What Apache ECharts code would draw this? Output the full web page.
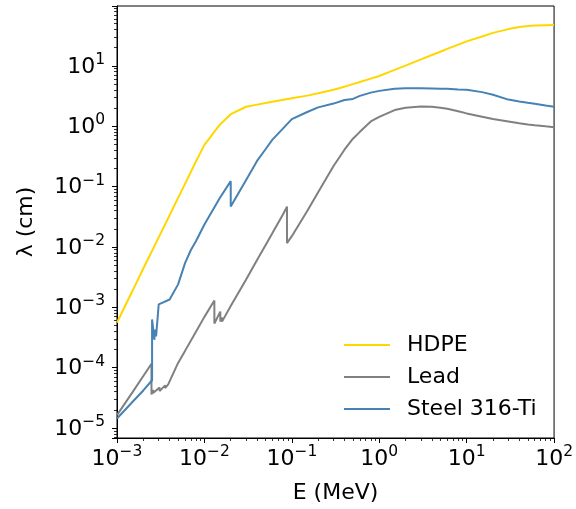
<!DOCTYPE html>
<html>
<head>
<meta charset="utf-8">
<script src="https://cdn.jsdelivr.net/npm/echarts@6/dist/echarts.min.js"></script>
<style>
html,body{margin:0;padding:0;background:#fff;}
#chart{width:576px;height:509px;}
</style>
</head>
<body>
<div id="chart"></div>
<script>
// ---- data ----
const seriesNames = ['HDPE', 'Lead', 'Steel 316-Ti'];
const seriesColors = ['#FFD700', '#808080', '#4682B4'];

const E_hdpe = [0.001, 0.0015, 0.002, 0.003, 0.004, 0.005, 0.006, 0.008, 0.01, 0.015, 0.02, 0.03, 0.04, 0.05, 0.06, 0.08, 0.1, 0.15, 0.2, 0.3, 0.4, 0.5, 0.6, 0.8, 1, 1.5, 2, 3, 4, 5, 6, 8, 10, 15, 20, 30, 40, 50, 60, 80, 100];
const lam_hdpe = [5.6e-4, 1.86e-3, 4.4e-3, 0.0144, 0.0336, 0.065, 0.111, 0.26, 0.49, 1.06, 1.58, 2.1, 2.28, 2.43, 2.55, 2.75, 2.91, 3.21, 3.51, 4.02, 4.52, 4.98, 5.4, 6.14, 6.8, 8.57, 10.1, 12.8, 15.1, 17.1, 19.1, 22.5, 25.4, 30.7, 35.2, 40.6, 44.1, 45.5, 46.7, 47.2, 47.5];

const E_lead = [0.001, 0.0015, 0.002, 0.00248, 0.00248, 0.00259, 0.00259, 0.00307, 0.00307, 0.00355, 0.00355, 0.00385, 0.00385, 0.005, 0.006, 0.008, 0.01, 0.013, 0.013, 0.0152, 0.0152, 0.0159, 0.0159, 0.02, 0.03, 0.04, 0.05, 0.06, 0.08, 0.088, 0.088, 0.1, 0.15, 0.2, 0.3, 0.4, 0.5, 0.6, 0.8, 1, 1.5, 2, 3, 4, 5, 6, 8, 10, 15, 20, 30, 40, 50, 60, 80, 100];
const lam_lead = [1.64e-5, 3.9e-5, 7.3e-5, 1.16e-4, 3.6e-5, 4.3e-5, 3.8e-5, 4.7e-5, 4.1e-5, 5.1e-5, 4.6e-5, 5.3e-5, 5.0e-5, 1.2e-4, 1.9e-4, 3.95e-4, 6.95e-4, 1.30e-3, 5.4e-4, 8.5e-4, 5.8e-4, 6.8e-4, 5.8e-4, 1.05e-3, 2.9e-3, 6.1e-3, 0.0107, 0.017, 0.0356, 0.0466, 0.0116, 0.0151, 0.0393, 0.0809, 0.219, 0.408, 0.621, 0.807, 1.2, 1.43, 1.85, 2.03, 2.12, 2.1, 2.02, 1.95, 1.77, 1.63, 1.44, 1.32, 1.2, 1.12, 1.07, 1.04, 0.995, 0.964];

const E_steel = [0.001, 0.0015, 0.002, 0.00252, 0.00252, 0.00268, 0.0027, 0.0028, 0.003, 0.004, 0.005, 0.006, 0.007, 0.008, 0.01, 0.015, 0.02, 0.02, 0.03, 0.04, 0.05, 0.06, 0.08, 0.1, 0.15, 0.2, 0.3, 0.4, 0.5, 0.6, 0.8, 1, 1.5, 2, 3, 4, 5, 6, 8, 10, 15, 20, 30, 40, 50, 60, 80, 100];
const lam_steel = [1.44e-5, 2.7e-5, 4.2e-5, 6.2e-5, 6.3e-4, 2.9e-4, 4.3e-4, 3.3e-4, 1.12e-3, 1.35e-3, 2.4e-3, 5.4e-3, 8.9e-3, 0.0124, 0.0235, 0.0646, 0.123, 0.0466, 0.129, 0.266, 0.415, 0.6, 0.93, 1.31, 1.72, 2.05, 2.37, 2.71, 2.83, 3.18, 3.6, 3.85, 4.19, 4.24, 4.24, 4.22, 4.19, 4.16, 4.07, 4.02, 3.67, 3.33, 2.76, 2.56, 2.44, 2.35, 2.2, 2.1];

const xMin = 1e-3, xMax = 1e2;
const yMin = 6.85e-6, yMax = 98;

// ---- chart ----
const FONT = 'DejaVu Sans';
function zip(a, b) { return a.map((v, i) => [v, b[i]]); }
function powLabel(v) {
  const e = Math.log10(v);
  const r = Math.round(e);
  if (Math.abs(e - r) > 1e-6) return '';
  const s = r < 0 ? '\u2212' + (-r) : String(r);
  return '{b|10}{s|' + s + '}';
}
const rich = {
  b: { fontFamily: FONT, fontSize: 22, color: '#000', verticalAlign: 'bottom', lineHeight: 24 },
  s: { fontFamily: FONT, fontSize: 15.5, color: '#000', verticalAlign: 'bottom', lineHeight: 24, padding: [0, 0, 10, 0] }
};

const chart = echarts.init(document.getElementById('chart'), null, { renderer: 'canvas' });
const dataSets = [zip(E_hdpe, lam_hdpe), zip(E_lead, lam_lead), zip(E_steel, lam_steel)];

chart.setOption({
  animation: false,
  backgroundColor: '#fff',
  grid: { left: 117, top: 6, right: 21, bottom: 67, show: true, borderColor: '#000', borderWidth: 1, containLabel: false },
  xAxis: {
    type: 'log', logBase: 10, min: xMin, max: xMax, splitNumber: 5,
    name: 'E (MeV)', nameLocation: 'middle', nameGap: 44,
    nameTextStyle: { fontFamily: FONT, fontSize: 22, color: '#000' },
    axisLine: { show: true, lineStyle: { color: '#000', width: 1 } },
    axisTick: { show: true, inside: false, length: 5, lineStyle: { color: '#000', width: 1 } },
    minorTick: { show: true, splitNumber: 9, length: 3, lineStyle: { color: '#000', width: 0.8 } },
    splitLine: { show: false },
    axisLabel: { margin: 8, formatter: powLabel, rich: rich, showMinLabel: true, showMaxLabel: true }
  },
  yAxis: {
    type: 'log', logBase: 10, min: yMin, max: yMax, splitNumber: 7,
    name: '\u03bb (cm)', nameLocation: 'middle', nameGap: 80, nameRotate: 90,
    nameTextStyle: { fontFamily: FONT, fontSize: 22, color: '#000' },
    axisLine: { show: true, lineStyle: { color: '#000', width: 1 } },
    axisTick: { show: true, inside: false, length: 5, lineStyle: { color: '#000', width: 1 } },
    minorTick: { show: true, splitNumber: 9, length: 3, lineStyle: { color: '#000', width: 0.8 } },
    splitLine: { show: false },
    axisLabel: { margin: 12, formatter: powLabel, rich: rich, showMinLabel: false, showMaxLabel: false }
  },
  legend: {
    orient: 'vertical', left: 343, top: 334, padding: 0, itemWidth: 46, itemHeight: 14, itemGap: 10,
    data: seriesNames,
    itemStyle: { opacity: 0 },
    textStyle: { fontFamily: FONT, fontSize: 22, color: '#000', lineHeight: 22, padding: [0, 0, 0, 12] }
  },
  series: seriesNames.map((n, i) => ({
    name: n, type: 'line', data: dataSets[i], showSymbol: false, symbol: 'none',
    color: seriesColors[i],
    lineStyle: { color: seriesColors[i], width: 2 },
    z: 2 + i
  }))
});
</script>
</body>
</html>
